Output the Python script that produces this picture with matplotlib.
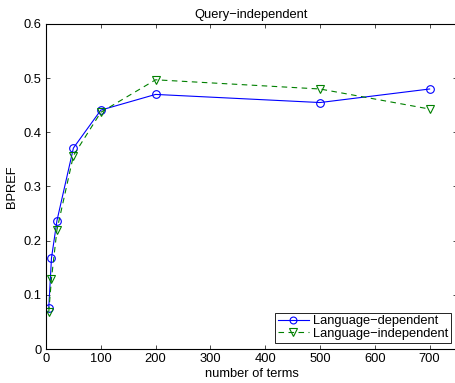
import matplotlib
matplotlib.use("Agg")
import matplotlib.pyplot as plt

plt.rcParams['font.family'] = ['Liberation Sans', 'DejaVu Sans']
plt.rcParams['font.size'] = 9.3

terms = [5, 10, 20, 50, 100, 200, 500, 700]
lang_dep = [0.075, 0.168, 0.237, 0.371, 0.441, 0.470, 0.455, 0.480]
lang_indep = [0.068, 0.130, 0.220, 0.357, 0.437, 0.497, 0.480, 0.443]

x_ticks = [0, 100, 200, 300, 400, 500, 600, 700]
y_ticks = [0, 0.1, 0.2, 0.3, 0.4, 0.5, 0.6]
y_labels = ['0', '0.1', '0.2', '0.3', '0.4', '0.5', '0.6']

fig = plt.figure(figsize=(4.55, 3.83), dpi=100)
ax = fig.add_axes([46 / 455, 34 / 383, 411 / 455, 325 / 383])

ax.plot(terms, lang_dep, '-', color=(0, 0, 1), marker='o', mfc='none',
        mec=(0, 0, 1), ms=5.5, lw=0.8, mew=0.8, label='Language\u2212dependent')
ax.plot(terms, lang_indep, '--', color=(0, 0.5, 0), marker='v', mfc='none',
        mec=(0, 0.5, 0), ms=6, lw=0.8, mew=0.8, dashes=(5, 4),
        label='Language\u2212independent')

ax.set_xlim(0, 750)
ax.set_ylim(0, 0.6)
ax.set_xticks(x_ticks)
ax.set_yticks(y_ticks)
ax.set_yticklabels(y_labels)
ax.tick_params(direction='in', top=True, right=True, length=3, width=0.5,
               labelsize=9.3, pad=3)
for s in ax.spines.values():
    s.set_linewidth(0.8)

ax.set_title('Query\u2212independent', fontsize=9.3, pad=4)
ax.set_xlabel('number of terms', fontsize=9.3, labelpad=2)
ax.set_ylabel('BPREF', fontsize=9.3, labelpad=4)

leg = ax.legend(loc='lower right', fontsize=9.3, fancybox=False, framealpha=1,
                edgecolor='black', borderaxespad=0.5, handlelength=2.4,
                borderpad=0.2, labelspacing=0.05, handletextpad=0.3,
                markerscale=0.9)
leg.get_frame().set_linewidth(0.6)

plt.savefig('out.png', dpi=100)
